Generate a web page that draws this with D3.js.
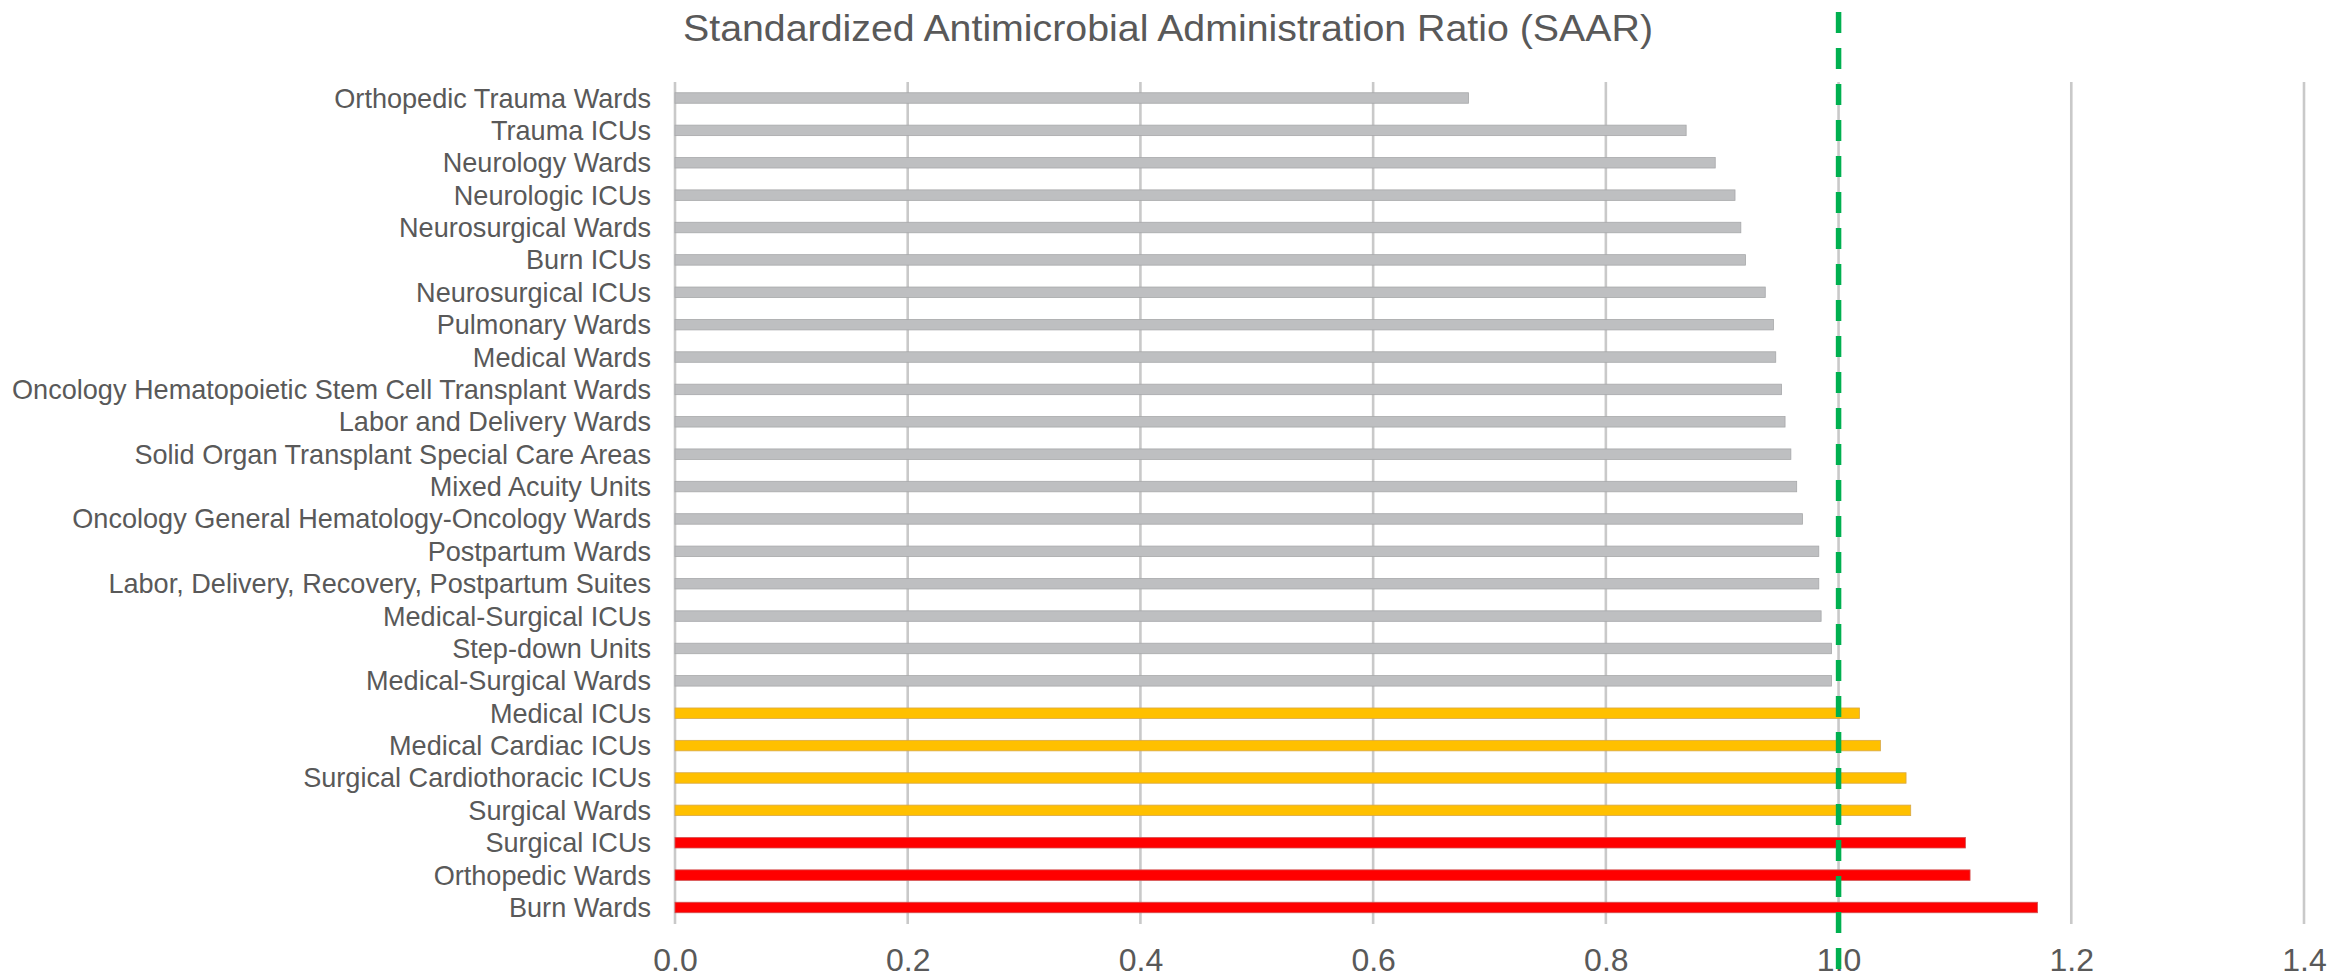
<!DOCTYPE html>
<html>
<head>
<meta charset="utf-8">
<script src="https://cdn.jsdelivr.net/npm/d3@7"></script>
<style>
  body { margin: 0; background: #fff; }
  text { font-family: "Liberation Sans", Arial, sans-serif; fill: #595959; }
</style>
</head>
<body>
<svg id="chart" width="2351" height="977"></svg>
<script>
const units = [
  "Orthopedic Trauma Wards", "Trauma ICUs", "Neurology Wards", "Neurologic ICUs",
  "Neurosurgical Wards", "Burn ICUs", "Neurosurgical ICUs", "Pulmonary Wards",
  "Medical Wards", "Oncology Hematopoietic Stem Cell Transplant Wards",
  "Labor and Delivery Wards", "Solid Organ Transplant Special Care Areas",
  "Mixed Acuity Units", "Oncology General Hematology-Oncology Wards",
  "Postpartum Wards", "Labor, Delivery, Recovery, Postpartum Suites",
  "Medical-Surgical ICUs", "Step-down Units", "Medical-Surgical Wards",
  "Medical ICUs", "Medical Cardiac ICUs", "Surgical Cardiothoracic ICUs",
  "Surgical Wards", "Surgical ICUs", "Orthopedic Wards", "Burn Wards"
];
const saar = [
  0.682, 0.869, 0.894, 0.911, 0.916, 0.920, 0.937, 0.944, 0.946, 0.951,
  0.954, 0.959, 0.964, 0.969, 0.983, 0.983, 0.985, 0.994, 0.994,
  1.018, 1.036, 1.058, 1.062, 1.109, 1.113, 1.171
];
// colour group per bar: 0 = below target, 1 = slightly above, 2 = well above
const level = [
  0, 0, 0, 0, 0, 0, 0, 0, 0, 0, 0, 0, 0, 0, 0, 0, 0, 0, 0,
  1, 1, 1, 1, 2, 2, 2
];
const xTicks = [0, 0.2, 0.4, 0.6, 0.8, 1.0, 1.2, 1.4];
const target = 1.0;
const title = "Standardized Antimicrobial Administration Ratio (SAAR)";

const fills = ["#bebfc1", "#ffc000", "#ff0000"];
const strokes = ["#a7a8aa", "#d7a84a", "#d25050"];

const svg = d3.select("#chart");
const data = units.map((u, i) => ({unit: u, v: saar[i], lvl: level[i]}));

const x = d3.scaleLinear().domain([0, 1.4]).range([675, 2304]);
const y = d3.scalePoint().domain(units).range([98, 907.5]);
const barH = 10.5;
const plotTop = 82, plotBottom = 924;

// vertical gridlines
svg.append("g")
  .selectAll("line")
  .data(xTicks)
  .join("line")
  .attr("x1", d => x(d)).attr("x2", d => x(d))
  .attr("y1", plotTop).attr("y2", plotBottom)
  .attr("stroke", "#c9c9c9")
  .attr("stroke-width", 2.6);

// bars
svg.append("g")
  .selectAll("rect")
  .data(data)
  .join("rect")
  .attr("x", x(0))
  .attr("y", d => y(d.unit) - barH / 2)
  .attr("width", d => x(d.v) - x(0))
  .attr("height", barH)
  .attr("fill", d => fills[d.lvl])
  .attr("stroke", d => strokes[d.lvl])
  .attr("stroke-width", 0.8);

// category labels
svg.append("g")
  .selectAll("text")
  .data(units)
  .join("text")
  .attr("x", 651)
  .attr("y", d => y(d) + 9.5)
  .attr("text-anchor", "end")
  .attr("font-size", 27.1)
  .text(d => d);

// x tick labels
const xAxis = svg.append("g")
  .attr("transform", `translate(0,${plotBottom})`)
  .call(d3.axisBottom(x).tickValues(xTicks).tickFormat(d3.format(".1f")).tickSize(0).tickPadding(0));
xAxis.select(".domain").remove();
xAxis.selectAll("text")
  .attr("dy", null)
  .attr("y", 47)
  .attr("font-size", 32)
  .attr("fill", "#595959")
  .attr("font-family", "Liberation Sans, Arial, sans-serif");

// target line
svg.append("line")
  .attr("x1", x(target)).attr("x2", x(target))
  .attr("y1", 12).attr("y2", 977)
  .attr("stroke", "#00b050")
  .attr("stroke-width", 5.5)
  .attr("stroke-dasharray", "21 15");

// title
svg.append("text")
  .attr("x", 1168)
  .attr("y", 41)
  .attr("text-anchor", "middle")
  .attr("font-size", 37)
  .attr("textLength", 970)
  .attr("lengthAdjust", "spacingAndGlyphs")
  .text(title);
</script>
</body>
</html>
